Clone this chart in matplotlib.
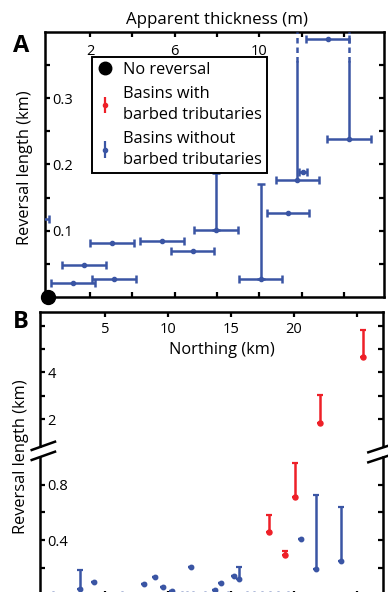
import numpy as np
import matplotlib
matplotlib.use('Agg')
import matplotlib.pyplot as plt
from matplotlib.lines import Line2D

plt.rcParams['font.family'] = ['Open Sans', 'DejaVu Sans']

BLUE = '#3a55a4'
RED = '#ee2028'
W, H = 388, 592

# panel A: apparent thickness (m) against reversal length (km)
a_thick_mid = [-1.0, 1.18, 1.72, 3.06, 3.14, 5.38, 6.85, 7.96, 10.07, 11.34, 11.80, 12.08, 14.24, 13.23]
a_thick_lo = [-2.0, 0.14, 0.67, 2.00, 2.08, 4.34, 5.84, 6.93, 9.03, 10.37, 10.78, 11.88, 13.22, 12.20]
a_thick_hi = [0.08, 2.23, 2.76, 4.08, 4.18, 6.42, 7.88, 8.98, 11.10, 12.36, 12.82, 12.27, 15.27, 14.26]
a_rev_min = [0.118, 0.021, 0.0485, 0.082, 0.027, 0.084, 0.070, 0.1015, 0.027, 0.127, 0.176, 0.189, 0.239, 0.390]
a_rev_max = [0.118, 0.021, 0.0485, 0.082, 0.027, 0.084, 0.070, 0.187, 0.171, 0.127, np.inf, 0.189, np.inf, 0.390]

# panel B: northing (km) against reversal length (km)
b_red_north = [25.53, 22.08, 20.12, 18.00, 19.30]
b_red_min = [4.67, 1.82, 0.709, 0.461, 0.293]
b_red_max = [5.82, 3.03, 0.955, 0.581, 0.324]

b_blue_north = [2.99, 4.13, 8.10, 8.98, 9.59, 10.31, 11.82, 13.73, 14.20, 15.27, 15.66, 20.57, 21.77, 23.76,
                0.85, 6.31, 11.08, 11.50, 12.00, 12.93, 14.79, 16.25, 16.83, 17.47, 18.10, 18.74, 19.50]
b_blue_min = [0.045, 0.098, 0.084, 0.134, 0.064, 0.035, 0.204, 0.040, 0.093, 0.141, 0.118, 0.406, 0.190, 0.252,
              0.012, 0.012, 0.012, 0.012, 0.012, 0.012, 0.012, 0.012, 0.012, 0.012, 0.012, 0.012, 0.012]
b_blue_max = [0.185, 0.098, 0.084, 0.134, 0.064, 0.035, 0.204, 0.040, 0.093, 0.141, 0.204, 0.406, 0.726, 0.641,
              0.012, 0.012, 0.012, 0.012, 0.012, 0.012, 0.012, 0.012, 0.012, 0.012, 0.012, 0.012, 0.012]

a_xticks = [2, 4, 6, 8, 10, 12, 14]
a_xticklabels = ['2', '', '6', '', '10', '', '']
a_yticks = [0.05, 0.1, 0.15, 0.2, 0.25, 0.3, 0.35]
a_yticklabels = ['', '0.1', '', '0.2', '', '0.3', '']
b_xticks = [5, 10, 15, 20, 25]
b_xticklabels = ['5', '10', '15', '20', '']
b_up_yticks = [2, 3, 4, 5, 6]
b_up_yticklabels = ['2', '', '4', '', '']
b_lo_yticks = [0.2, 0.4, 0.6, 0.8]
b_lo_yticklabels = ['', '0.4', '', '0.8']

A_DASH_FROM = 0.355
B_BREAK = 1.0
LW = 1.8


def px_rect(left, top, right, bottom):
    return [left / W, 1 - bottom / H, (right - left) / W, (bottom - top) / H]


def style_axis(ax, sides):
    for s in ['left', 'right', 'top', 'bottom']:
        ax.spines[s].set_linewidth(LW)
        ax.spines[s].set_visible(s in sides)
    ax.tick_params(which='both', direction='in', length=3.8, width=1.6, labelsize=10.5,
                   left='left' in sides, right='right' in sides,
                   top='top' in sides, bottom='bottom' in sides,
                   labelleft=True, labelbottom=False, labeltop=False, labelright=False)
    ax.tick_params(axis='y', pad=-5.5)


def inside_left_labels(ax):
    for t in ax.yaxis.get_major_ticks():
        t.label1.set_horizontalalignment('left')


def inside_top_labels(ax, pad):
    ax.tick_params(axis='x', labeltop=True, pad=pad)
    for t in ax.xaxis.get_major_ticks():
        t.label2.set_verticalalignment('top')


fig = plt.figure(figsize=(W / 100, H / 100), dpi=100)

# ---------- panel A ----------
ax = fig.add_axes(px_rect(45, 32, 384, 297))
ax.set_xlim(-0.13, 15.9)
ax.set_ylim(0, 0.4)
style_axis(ax, ['left', 'right', 'top', 'bottom'])
ax.set_xticks(a_xticks, a_xticklabels)
ax.set_yticks(a_yticks, a_yticklabels)
inside_left_labels(ax)
inside_top_labels(ax, -8.5)

mid = np.array(a_thick_mid)
lo = np.array(a_thick_lo)
hi = np.array(a_thick_hi)
rmin = np.array(a_rev_min)
rmax = np.array(a_rev_max)

ax.errorbar(mid, rmin, xerr=[mid - lo, hi - mid], fmt='o', color=BLUE, ms=3,
            lw=LW, capsize=2.6, capthick=LW, zorder=3)
for x, y0, y1 in zip(mid, rmin, rmax):
    if np.isinf(y1):
        ax.plot([x, x], [y0, A_DASH_FROM], color=BLUE, lw=LW, zorder=3)
        ax.plot([x, x], [A_DASH_FROM, 0.4], color=BLUE, lw=LW, ls=(0, (2.2, 1.6)), zorder=3)
    elif y1 > y0:
        ax.errorbar([x], [y0], yerr=[[0], [y1 - y0]], fmt='none', ecolor=BLUE,
                    lw=LW, capsize=2.8, capthick=LW, zorder=3)

ax.plot([0], [0], 'o', color='k', ms=10, clip_on=False, zorder=5)

h_none = Line2D([], [], marker='o', color='k', ls='', ms=9)
h_red = ax.errorbar([], [], yerr=[], fmt='o', color=RED, ms=3, lw=1.6, capsize=2.5, capthick=1.6)
h_blue = ax.errorbar([], [], yerr=[], fmt='o', color=BLUE, ms=3, lw=1.6, capsize=2.5, capthick=1.6)
leg = ax.legend([h_none, h_red, h_blue],
                ['No reversal', 'Basins with\nbarbed tributaries', 'Basins without\nbarbed tributaries'],
                loc='upper left', bbox_to_anchor=(0.139, 0.905), fontsize=11.8,
                frameon=True, fancybox=False, framealpha=1, edgecolor='k',
                handlelength=1.0, handletextpad=0.6, borderpad=0.3, labelspacing=0.5,
                borderaxespad=0)
leg.get_frame().set_linewidth(1.4)
for t in leg.get_texts():
    t.set_linespacing(1.38)

fig.text(217 / W, 1 - 20 / H, 'Apparent thickness (m)', ha='center', va='center', fontsize=12.2)
fig.text(25 / W, 1 - 168 / H, 'Reversal length (km)', ha='center', va='center', rotation=90, fontsize=11.8)
fig.text(21 / W, 1 - 46 / H, 'A', ha='center', va='center', fontsize=17, fontweight='bold')

# ---------- panel B (broken y axis) ----------
axu = fig.add_axes(px_rect(40, 312.3, 383, 446))
axl = fig.add_axes(px_rect(40, 457, 383, 595.6))
for a in (axu, axl):
    a.set_xlim(-0.2, 27.1)
    a.set_xticks(b_xticks, b_xticklabels)
axu.set_ylim(0.85, 6.57)
axl.set_ylim(0, B_BREAK)

style_axis(axu, ['left', 'right', 'top'])
style_axis(axl, ['left', 'right', 'bottom'])
axu.set_yticks(b_up_yticks, b_up_yticklabels)
axl.set_yticks(b_lo_yticks, b_lo_yticklabels)
inside_left_labels(axu)
inside_left_labels(axl)
inside_top_labels(axu, -7)
axl.tick_params(axis='x', labelbottom=False)

series = [(b_blue_north, b_blue_min, b_blue_max, BLUE, 3.2),
          (b_red_north, b_red_min, b_red_max, RED, 3.6)]
for north, vmin, vmax, col, ms in series:
    north = np.array(north)
    vmin = np.array(vmin)
    vmax = np.array(vmax)
    for a, sel in ((axu, vmin > B_BREAK), (axl, vmax <= B_BREAK)):
        if not sel.any():
            continue
        a.errorbar(north[sel], vmin[sel], yerr=[np.zeros(sel.sum()), vmax[sel] - vmin[sel]],
                   fmt='o', color=col, ms=ms, lw=LW, capsize=2.4, capthick=1.6, zorder=3)

axu.text(0.53, 0.715, 'Northing (km)', transform=axu.transAxes, ha='center', va='center', fontsize=11.8)
fig.text(21 / W, 1 - 457 / H, 'Reversal length (km)', ha='center', va='center', rotation=90, fontsize=11.8)
fig.text(21 / W, 1 - 322 / H, 'B', ha='center', va='center', fontsize=17, fontweight='bold')

# break marks across both spines
for (x0, y0, x1, y1) in [(31.7, 450, 55, 441.7), (31.7, 460, 55, 451.7),
                         (368.3, 452.3, 392, 444.5), (368.3, 462.3, 392, 454.5)]:
    fig.add_artist(Line2D([x0 / W, x1 / W], [1 - y0 / H, 1 - y1 / H],
                          transform=fig.transFigure, color='k', lw=LW))

fig.savefig('out.png', dpi=100)
